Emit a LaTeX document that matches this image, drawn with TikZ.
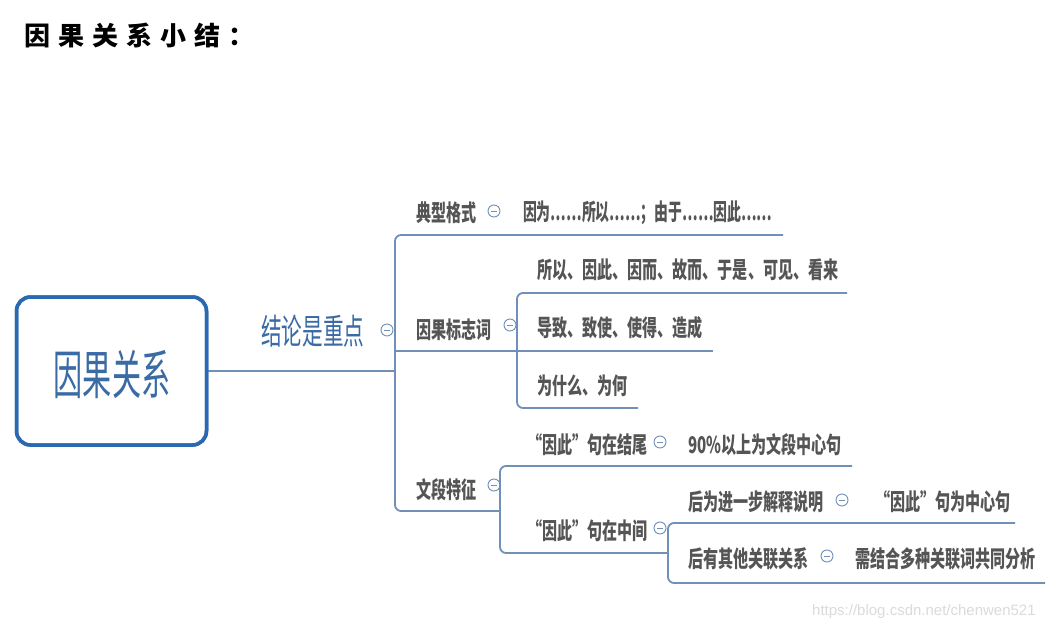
\documentclass[tikz,border=0pt]{standalone}
\usepackage{fontspec}
\newfontfamily\cjk{Noto Sans CJK SC}
\newfontfamily\wmfont{Liberation Sans}
\definecolor{linec}{HTML}{7090B8}
\definecolor{rootc}{HTML}{2A68B0}
\definecolor{roott}{HTML}{3A6BA5}
\definecolor{txtc}{HTML}{555555}
\begin{document}
\begin{tikzpicture}[x=1pt,y=-1pt,
  ln/.style={draw=linec,line width=1.8pt,rounded corners=6pt},
  topic/.style={font=\cjk\bfseries\fontsize{23}{23}\selectfont,text=txtc,anchor=west,inner sep=0pt,xscale=0.655},
  fold/.style={circle,draw=linec,line width=0.9pt,minimum size=12pt,inner sep=0pt,fill=white,
    path picture={\draw[linec,line width=0.8pt] ([xshift=3pt]path picture bounding box.west) -- ([xshift=-3pt]path picture bounding box.east);}},
  rootbox/.style={draw=rootc,line width=3.5pt,rounded corners=14pt,minimum width=190pt,minimum height=148pt,fill=white},
  roottext/.style={font=\cjk\fontsize{53}{53}\selectfont,text=roott,xscale=0.55,inner sep=0pt},
  maintext/.style={font=\cjk\fontsize{35}{35}\selectfont,text=roott,xscale=0.59,inner sep=0pt,anchor=west},
  titletext/.style={font=\cjk\bfseries\fontsize{26}{26}\selectfont\addfontfeature{LetterSpace=31},anchor=west,inner sep=0pt},
  wm/.style={font=\wmfont\fontsize{15}{15}\selectfont,text=black!14,anchor=west,inner sep=0pt}
]
\useasboundingbox[fill=white] (0,0) rectangle (1055,631);

% title
\node[titletext] (title) at (24,36) {因果关系小结：};

% root
\node[rootbox] (root) at (111.5,371) {};
\node[roottext] (roottxt) at (112,374) {因果关系};
\node[maintext] (main) at (261,331) {结论是重点};
\node[fold] (f0) at (387,330) {};

% level 1
\node[topic] (t1) at (416,213) {典型格式};
\node[fold] (f1) at (494,211) {};
\node[topic,xscale=0.92] (t1a) at (523,213) {因为……所以……；由于……因此……};

\node[topic] (t2) at (416,330) {因果标志词};
\node[fold] (f2) at (510,325) {};
\node[topic] (t2a) at (537,270) {所以、因此、因而、故而、于是、可见、看来};
\node[topic] (t2b) at (537,328) {导致、致使、使得、造成};
\node[topic] (t2c) at (537,386) {为什么、为何};

\node[topic] (t3) at (416,490) {文段特征};
\node[fold] (f3) at (494,485) {};
\node[topic] (t31) at (527,445) {“因此”句在结尾};
\node[fold] (f31) at (660,442) {};
\node[topic] (t31a) at (688,445) {90\%以上为文段中心句};
\node[topic] (t32) at (527,531) {“因此”句在中间};
\node[fold] (f32) at (660,528) {};
\node[topic] (t321) at (688,502) {后为进一步解释说明};
\node[fold] (f321) at (842,500) {};
\node[topic] (t321a) at (875,502) {“因此”句为中心句};
\node[topic] (t322) at (688,559) {后有其他关联关系};
\node[fold] (f322) at (827,556) {};
\node[topic] (t322a) at (855,559) {需结合多种关联词共同分析};

% line coordinates
\coordinate (J) at (395,371);
\coordinate (b1top) at (395,235);
\coordinate (b1bot) at (395,511);
\coordinate (u1) at (783,235);
\coordinate (u2) at (713,351);
\coordinate (u2l) at (395,351);
\coordinate (b2top) at (517,293);
\coordinate (b2bot) at (517,408);
\coordinate (u2a) at (847,293);
\coordinate (u2c) at (638,408);
\coordinate (b3top) at (500,466);
\coordinate (b3mid) at (500,511);
\coordinate (b3bot) at (500,553);
\coordinate (u31) at (852,466);
\coordinate (b4top) at (668,523);
\coordinate (b4bot) at (668,583);
\coordinate (u321) at (1015,523);
\coordinate (u322) at (1045,583);

% connectors
\draw[ln] (root.east) -- (J);
\draw[ln] (u1) -- (b1top) -- (b1bot) -- (b3mid);
\draw[ln] (u2l) -- (u2);
\draw[ln] (u2a) -- (b2top) -- (b2bot) -- (u2c);
\draw[ln] (u31) -- (b3top) -- (b3bot) -- (b4bot |- b3bot);
\draw[ln] (u321) -- (b4top) -- (b4bot) -- (u322);

% redraw root box outline over line end
\node[rootbox,fill=none] at (root) {};

% watermark
\node[wm] (wmark) at (812,612) {https://blog.csdn.net/chenwen521};
\end{tikzpicture}
\end{document}
